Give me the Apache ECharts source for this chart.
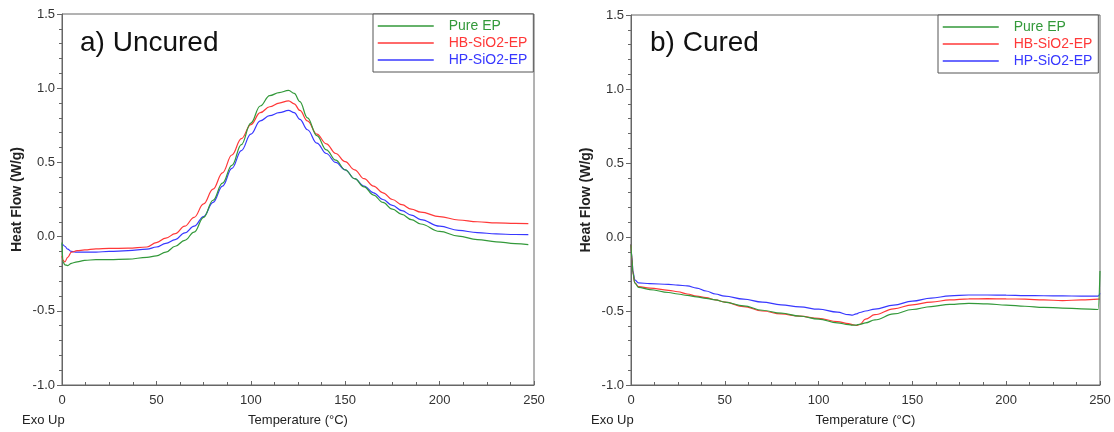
<!DOCTYPE html>
<html>
<head>
<meta charset="utf-8">
<script src="https://cdn.jsdelivr.net/npm/echarts@6/dist/echarts.min.js"></script>
<style>
  html, body { margin: 0; padding: 0; background: #fff; }
  #chart { width: 1114px; height: 432px; }
</style>
</head>
<body>
<div id="chart"></div>
<script>
// DSC heat-flow curves: uncured vs cured epoxy samples
const seriesNames = ['Pure EP', 'HB-SiO2-EP', 'HP-SiO2-EP'];
const seriesColors = ['#33993a', '#ff3838', '#3838ff'];
const xTicks = [0, 50, 100, 150, 200, 250];
const yTicks = [-1.0, -0.5, 0.0, 0.5, 1.0, 1.5];

// a) Uncured — temperature (°C) and heat flow (W/g)
const tempUncured = [0, 0.5, 1.5, 3, 5, 8, 12, 18, 25, 35, 45, 50, 55, 60, 65, 70, 75, 80, 85, 90, 95,
  100, 105, 110, 115, 120, 123, 126, 130, 135, 140, 145, 150, 155, 160, 165, 170, 175, 180, 185, 190,
  200, 210, 220, 230, 240, 247];
const pureUncured = [-0.04, -0.17, -0.19, -0.195, -0.18, -0.17, -0.16, -0.155, -0.155, -0.152, -0.14, -0.13,
  -0.105, -0.065, -0.025, 0.03, 0.13, 0.245, 0.36, 0.48, 0.62, 0.765, 0.88, 0.95, 0.97, 0.985, 0.965, 0.91,
  0.80, 0.68, 0.585, 0.515, 0.45, 0.39, 0.335, 0.28, 0.23, 0.185, 0.15, 0.115, 0.085, 0.035, 0.003, -0.02,
  -0.035, -0.047, -0.054];
const hbUncured = [-0.13, -0.16, -0.17, -0.14, -0.105, -0.095, -0.09, -0.083, -0.08, -0.078, -0.07, -0.04,
  -0.01, 0.02, 0.07, 0.13, 0.22, 0.32, 0.43, 0.55, 0.66, 0.755, 0.835, 0.875, 0.9, 0.915, 0.895, 0.85,
  0.78, 0.69, 0.625, 0.56, 0.505, 0.45, 0.39, 0.34, 0.295, 0.25, 0.215, 0.185, 0.165, 0.135, 0.112, 0.1,
  0.093, 0.089, 0.087];
const hpUncured = [-0.05, -0.055, -0.065, -0.085, -0.1, -0.105, -0.105, -0.104, -0.1, -0.095, -0.085, -0.07,
  -0.045, -0.02, 0.025, 0.07, 0.135, 0.23, 0.34, 0.46, 0.58, 0.69, 0.78, 0.815, 0.835, 0.85, 0.835, 0.79,
  0.72, 0.63, 0.56, 0.5, 0.45, 0.39, 0.34, 0.295, 0.25, 0.21, 0.175, 0.145, 0.115, 0.07, 0.042, 0.027,
  0.018, 0.014, 0.013];

// b) Cured — temperature (°C) and heat flow (W/g)
const tempCured = [0, 0.5, 1, 2, 4, 10, 20, 25, 30, 35, 40, 45, 50, 60, 70, 80, 90, 100, 110, 116, 118,
  120, 122, 125, 130, 140, 150, 160, 170, 180, 190, 200, 210, 220, 230, 240, 249, 250];
const pureCured = [-0.05, -0.15, -0.24, -0.31, -0.34, -0.355, -0.375, -0.385, -0.395, -0.405, -0.415, -0.425,
  -0.44, -0.465, -0.495, -0.515, -0.535, -0.555, -0.58, -0.592, -0.595, -0.595, -0.59, -0.58, -0.56, -0.52,
  -0.49, -0.47, -0.455, -0.448, -0.452, -0.46, -0.468, -0.475, -0.48, -0.485, -0.49, -0.23];
const hbCured = [-0.05, -0.15, -0.24, -0.31, -0.335, -0.345, -0.36, -0.37, -0.385, -0.4, -0.41, -0.425,
  -0.44, -0.47, -0.5, -0.52, -0.535, -0.55, -0.572, -0.585, -0.592, -0.598, -0.59, -0.555, -0.525, -0.485,
  -0.458, -0.44, -0.425, -0.418, -0.417, -0.418, -0.42, -0.425, -0.43, -0.425, -0.42, -0.42];
const hpCured = [-0.05, -0.14, -0.23, -0.29, -0.31, -0.315, -0.32, -0.325, -0.33, -0.345, -0.365, -0.385,
  -0.4, -0.42, -0.44, -0.458, -0.472, -0.488, -0.508, -0.525, -0.528, -0.52, -0.51, -0.5, -0.487, -0.46,
  -0.433, -0.413, -0.398, -0.392, -0.392, -0.393, -0.396, -0.397, -0.398, -0.399, -0.4, -0.38];

const FONT = 'Liberation Sans, Arial, sans-serif';

function pairs(xs, ys) {
  return xs.map((x, i) => [x, ys[i]]);
}

function xAxisFor(gridIndex) {
  return {
    type: 'value', gridIndex,
    min: xTicks[0], max: xTicks[xTicks.length - 1], interval: xTicks[1] - xTicks[0],
    name: 'Temperature (°C)', nameLocation: 'middle', nameGap: 29,
    nameTextStyle: { fontFamily: FONT, fontSize: 13, color: '#222' },
    axisLine: { show: true, onZero: false, lineStyle: { color: '#666', width: 1 } },
    axisTick: { show: true, inside: true, length: 4, lineStyle: { color: '#666' } },
    minorTick: { show: true, splitNumber: 4, length: 3, lineStyle: { color: '#666' } },
    splitLine: { show: false },
    axisLabel: { fontFamily: FONT, fontSize: 13, color: '#333', margin: 9 }
  };
}

function yAxisFor(gridIndex) {
  return {
    type: 'value', gridIndex,
    min: yTicks[0], max: yTicks[yTicks.length - 1], interval: yTicks[1] - yTicks[0],
    name: 'Heat Flow (W/g)', nameLocation: 'middle', nameGap: 38, nameRotate: 90,
    nameTextStyle: { fontFamily: FONT, fontSize: 14, fontWeight: 'bold', color: '#222' },
    axisLine: { show: true, onZero: false, lineStyle: { color: '#666', width: 1 } },
    axisTick: { show: true, inside: false, length: 5, lineStyle: { color: '#666' } },
    minorTick: { show: true, splitNumber: 5, length: 3, lineStyle: { color: '#666' } },
    splitLine: { show: false },
    axisLabel: { fontFamily: FONT, fontSize: 13, color: '#333', margin: 7,
      formatter: v => v.toFixed(1) }
  };
}

function lineSeries(name, idx, gridIdx, xs, ys) {
  return {
    type: 'line', name,
    xAxisIndex: gridIdx, yAxisIndex: gridIdx,
    data: pairs(xs, ys),
    symbol: 'none', smooth: 0.4, smoothMonotone: 'x',
    lineStyle: { color: seriesColors[idx], width: 1.2 },
    itemStyle: { color: seriesColors[idx] },
    emphasis: { disabled: true },
    z: 3 - idx + 2
  };
}

function legendFor(left, top) {
  return {
    orient: 'vertical', left, top,
    data: seriesNames.map((n, i) => ({ name: n, textStyle: { color: seriesColors[i] } })),
    itemWidth: 56, itemHeight: 14, itemGap: 3,
    itemStyle: { opacity: 0 },
    lineStyle: { width: 1.5 },
    padding: [5, 6, 5, 4],
    borderColor: '#555', borderWidth: 1, backgroundColor: '#fff',
    textStyle: { fontFamily: FONT, fontSize: 14, lineHeight: 14, padding: [0, 0, 0, 10] },
    selectedMode: false
  };
}

const chart = echarts.init(document.getElementById('chart'), null, { renderer: 'canvas' });

chart.setOption({
  animation: false,
  backgroundColor: '#fff',
  grid: [
    { left: 62, top: 14, width: 472, height: 372, show: true, borderColor: '#666', borderWidth: 1 },
    { left: 631, top: 15, width: 469, height: 370, show: true, borderColor: '#666', borderWidth: 1 }
  ],
  xAxis: [xAxisFor(0), xAxisFor(1)],
  yAxis: [yAxisFor(0), yAxisFor(1)],
  legend: [legendFor(373, 14), legendFor(938, 15)],
  series: [
    lineSeries(seriesNames[0], 0, 0, tempUncured, pureUncured),
    lineSeries(seriesNames[1], 1, 0, tempUncured, hbUncured),
    lineSeries(seriesNames[2], 2, 0, tempUncured, hpUncured),
    lineSeries(seriesNames[0], 0, 1, tempCured, pureCured),
    lineSeries(seriesNames[1], 1, 1, tempCured, hbCured),
    lineSeries(seriesNames[2], 2, 1, tempCured, hpCured)
  ],
  graphic: [
    { type: 'text', left: 80, top: 29, style: { text: 'a) Uncured', font: '28px ' + FONT, fill: '#111' } },
    { type: 'text', left: 650, top: 29, style: { text: 'b) Cured', font: '28px ' + FONT, fill: '#111' } },
    { type: 'text', left: 22, top: 414, style: { text: 'Exo Up', font: '13px ' + FONT, fill: '#222' } },
    { type: 'text', left: 591, top: 414, style: { text: 'Exo Up', font: '13px ' + FONT, fill: '#222' } }
  ]
});
</script>
</body>
</html>
